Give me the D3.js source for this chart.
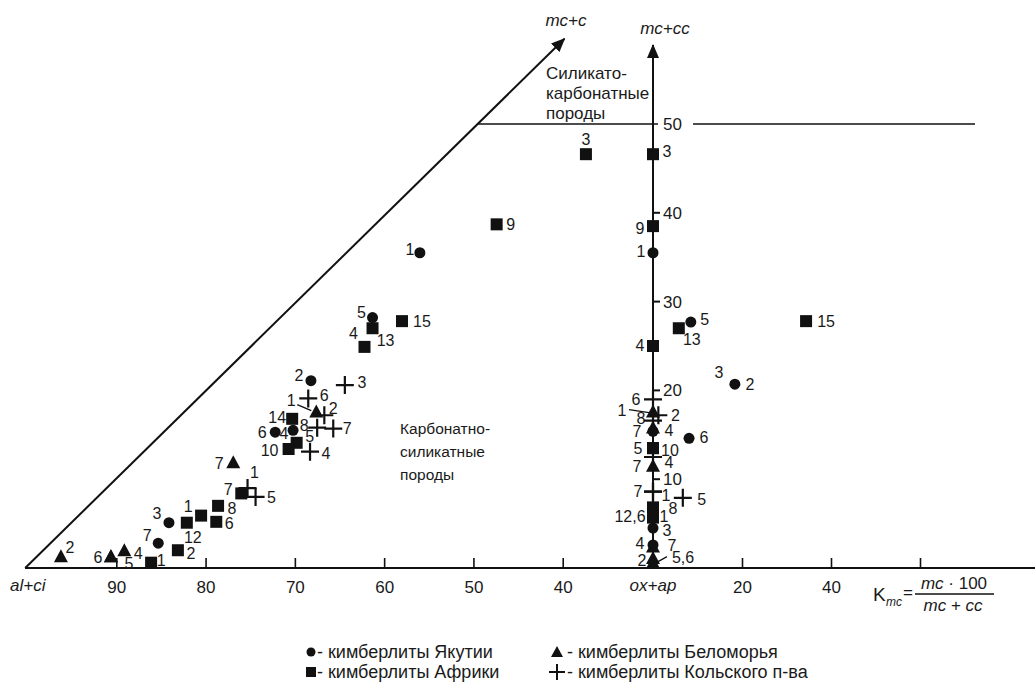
<!DOCTYPE html>
<html><head><meta charset="utf-8">
<script src="https://cdn.jsdelivr.net/npm/d3@7"></script>
<style>
body{margin:0;background:#fff}
svg{display:block}
text{font-family:"Liberation Sans",Arial,sans-serif;fill:#1a1a1a}
</style>
</head><body>
<svg id="c" width="1035" height="683"></svg>
<script>
// ---------------- DATA ----------------
// Left (triangle) part: al+ci (%) along the base, mc+c up
const leftTicks = [90, 80, 70, 60, 50, 40];
const rightTicks = [20, 40, 60];
const rightTickLabels = ["20", "40", ""];
const vertTicks = [10, 20, 30, 40];
const boundaryLevel = 50;

const yakutiaLeft = [
  {id:"1", a:56.0, m:35.5}, {id:"5", a:61.3, m:28.2}, {id:"2", a:68.2, m:21.1},
  {id:"4", a:70.2, m:15.5}, {id:"6", a:72.2, m:15.3}, {id:"3", a:84.1, m:5.1},
  {id:"7", a:85.3, m:2.8}
];
const africaLeft = [
  {id:"3", a:37.4, m:46.6}, {id:"9", a:47.4, m:38.7}, {id:"15", a:58.0, m:27.8},
  {id:"13", a:61.3, m:27.0}, {id:"4", a:62.2, m:24.9}, {id:"14", a:70.3, m:16.8},
  {id:"5", a:69.8, m:14.1}, {id:"10", a:70.7, m:13.4}, {id:"7", a:76.0, m:8.4},
  {id:"8", a:78.6, m:7.0}, {id:"1", a:80.5, m:5.9}, {id:"6", a:78.8, m:5.2},
  {id:"12", a:82.1, m:5.1}, {id:"2", a:83.1, m:2.0}, {id:"1", a:86.1, m:0.6}
];
const belomoryeLeft = [
  {id:"1", a:67.6, m:17.5}, {id:"7", a:76.9, m:11.8}, {id:"2", a:96.2, m:1.2},
  {id:"6", a:90.6, m:1.2}, {id:"5", a:90.6, m:1.2}, {id:"4", a:89.1, m:1.9}
];
const kolaLeft = [
  {id:"3", a:64.4, m:20.6}, {id:"6", a:68.5, m:19.1}, {id:"2", a:66.7, m:17.2},
  {id:"8", a:67.5, m:15.8}, {id:"7", a:65.7, m:15.7}, {id:"4", a:68.3, m:13.1},
  {id:"1", a:75.3, m:9.0}, {id:"5", a:74.4, m:8.0}
];

// Right part: K_mc along the base, mc+cc up
const yakutiaRight = [
  {id:"1", k:0, m:35.5}, {id:"5", k:8.5, m:27.7}, {id:"2", k:18.4, m:20.7},
  {id:"4", k:0, m:15.4}, {id:"6", k:8.1, m:14.6}, {id:"3", k:0, m:4.5},
  {id:"7", k:0, m:2.6}
];
const africaRight = [
  {id:"3", k:0, m:46.6}, {id:"9", k:0, m:38.5}, {id:"4", k:0, m:25.0},
  {id:"13", k:5.8, m:27.0}, {id:"15", k:34.4, m:27.8}, {id:"5", k:0, m:13.5},
  {id:"10", k:0, m:13.5}, {id:"12", k:0, m:6.8}, {id:"8", k:0, m:6.8},
  {id:"6", k:0, m:5.7}, {id:"1", k:0, m:5.7}
];
const belomoryeRight = [
  {id:"1", k:0, m:17.5}, {id:"7", k:0, m:15.7}, {id:"4", k:0, m:11.4},
  {id:"4", k:0, m:2.3}, {id:"2", k:0, m:1.0}, {id:"5,6", k:0, m:0.5}
];
const kolaRight = [
  {id:"6", k:0, m:19.0}, {id:"2", k:1.2, m:17.2}, {id:"8", k:0, m:16.6},
  {id:"4", k:0, m:12.5}, {id:"7", k:0, m:8.6}, {id:"1", k:0, m:8.6},
  {id:"5", k:6.7, m:7.9}
];

const legendItems = [
  {shape:"circle", text:"- кимберлиты Якутии"},
  {shape:"triangle", text:"- кимберлиты Беломорья"},
  {shape:"square", text:"- кимберлиты Африки"},
  {shape:"cross", text:"- кимберлиты Кольского п-ва"}
];

// ---------------- LAYOUT (label placement, px offsets) ----------------
const labYL = [[[-10,-3]],[[-11,-5]],[[-12,-5]],[[-9,3]],[[-13,0]],[[-12,-9]],[[-11,-8]]];
const labAL = [[[0,-15]],[[14,0]],[[20,0]],[[13,12]],[[-11,-13]],[[-15,-1]],[[13,-6]],[[-19,1]],
  [[-13,-4]],[[14,3]],[[-13,-9]],[[13,2]],[[6,15]],[[13,3]],[[10,-2]]];
const labBL = [[[-25,-12,null,[-19,-8,-5,-2]]],[[-14,0]],[[9,-10]],[[-13,0]],[[18,6]],[[14,2]]];
const labKL = [[[17,-3]],[[16,-3]],[[9,-7]],[[-13,-2]],[[14,0]],[[16,2]],[[7,-16]],[[16,0]]];

const labYR = [[[-12,-1]],[[14,-3]],[[15,0],[-16,-12,"3"]],[[16,-1]],[[15,-1]],[[14,2]],[[19,0]]];
const labAR = [[[14,-3]],[[-13,2]],[[-13,-1]],[[13,11]],[[20,0]],[[-15,0]],[[17,2]],
  [[-23,9,"12,6"]],[[20,1]],[],[[11,-1]]];
const labBR = [[[-31,-2,null,[-24,-3,-4,0]]],[[-16,3]],[[-16,0,"7"],[16,-4]],[[-13,-4]],[[-11,1]],
  [[30,-6,null,[5,-2,14,-7]]]];
const labKR = [[[-17,0]],[[17,0]],[[-12,-2]],[],[[-15,0]],[[13,4]],[[19,2]]];

// ---------------- DRAW ----------------
const svg = d3.select("#c");
const xl = d3.scaleLinear().domain([100, 30]).range([27, 652]);
const xr = d3.scaleLinear().domain([0, 60]).range([653, 920]);
const yv = d3.scaleLinear().domain([0, 50]).range([568, 124]);
const ink = "#111";
const FF = '"Liberation Sans",Arial,sans-serif';
const LBL = 16;

// base line
svg.append("line").attr("x1", 25).attr("x2", 1035).attr("y1", yv(0)).attr("y2", yv(0))
  .attr("stroke", ink).attr("stroke-width", 2);

// left ticks via axis
const axL = d3.axisBottom(xl).tickValues(leftTicks).tickSize(-10).tickSizeOuter(0).tickPadding(13);
const gL = svg.append("g").attr("transform", `translate(0,${yv(0)})`).call(axL);
gL.select(".domain").remove();
gL.selectAll("line").attr("stroke", ink).attr("stroke-width", 1.6);
gL.selectAll("text").attr("font-size", 17).attr("fill", "#1a1a1a").attr("font-family", FF);

const axR = d3.axisBottom(xr).tickValues(rightTicks).tickFormat((d, i) => rightTickLabels[i])
  .tickSize(-10).tickSizeOuter(0).tickPadding(13);
const gR = svg.append("g").attr("transform", `translate(0,${yv(0)})`).call(axR);
gR.select(".domain").remove();
gR.selectAll("line").attr("stroke", ink).attr("stroke-width", 1.6);
gR.selectAll("text").attr("font-size", 17).attr("fill", "#1a1a1a").attr("font-family", FF);

// axis end labels
svg.append("text").attr("x", 10).attr("y", 591).attr("font-size", 17).attr("font-style", "italic").text("al+ci");
svg.append("text").attr("x", xr(0)).attr("y", 591).attr("text-anchor", "middle").attr("font-size", 17)
  .attr("font-style", "italic").text("ox+ap");

// arrow marker
const defs = svg.append("defs");
defs.append("marker").attr("id", "arr").attr("viewBox", "0 0 14 12").attr("refX", 13).attr("refY", 6)
  .attr("markerWidth", 14).attr("markerHeight", 12).attr("markerUnits", "userSpaceOnUse").attr("orient", "auto")
  .append("path").attr("d", "M0,0 L14,6 L0,12 Z").attr("fill", ink);

// diagonal mc+c
const diagStart = {a: 100.2, m: 0}, diagEnd = {a: 39.8, m: 59.6};
svg.append("line").attr("x1", xl(diagStart.a)).attr("y1", yv(diagStart.m))
  .attr("x2", xl(diagEnd.a)).attr("y2", yv(diagEnd.m))
  .attr("stroke", ink).attr("stroke-width", 2).attr("marker-end", "url(#arr)");
svg.append("text").attr("x", 566).attr("y", 26).attr("text-anchor", "middle").attr("font-size", 17)
  .attr("font-style", "italic").text("mc+c");

// vertical axis mc+cc
svg.append("line").attr("x1", xr(0)).attr("x2", xr(0)).attr("y1", yv(0)).attr("y2", yv(58.9))
  .attr("stroke", ink).attr("stroke-width", 2).attr("marker-end", "url(#arr)");
svg.append("text").attr("x", 665).attr("y", 34).attr("text-anchor", "middle").attr("font-size", 17)
  .attr("font-style", "italic").text("mc+cc");
vertTicks.forEach(t => {
  svg.append("line").attr("x1", xr(0)).attr("x2", xr(0) + 7).attr("y1", yv(t)).attr("y2", yv(t))
    .attr("stroke", ink).attr("stroke-width", 2);
  svg.append("text").attr("x", xr(0) + 10).attr("y", yv(t)).attr("dy", "0.35em").attr("font-size", 17).text(t);
});

// boundary at 50
const tDiag = boundaryLevel / diagEnd.m;
const xCross = xl(diagStart.a + (diagEnd.a - diagStart.a) * tDiag);
svg.append("line").attr("x1", xCross).attr("x2", xr(0) + 5).attr("y1", yv(boundaryLevel)).attr("y2", yv(boundaryLevel))
  .attr("stroke", ink).attr("stroke-width", 1.6);
svg.append("line").attr("x1", xr(0) + 40).attr("x2", 975).attr("y1", yv(boundaryLevel)).attr("y2", yv(boundaryLevel))
  .attr("stroke", ink).attr("stroke-width", 1.6);
svg.append("text").attr("x", xr(0) + 10).attr("y", yv(boundaryLevel)).attr("dy", "0.35em").attr("font-size", 17).text("50");

// region texts
const reg1 = ["Силикато-", "карбонатные", "породы"];
reg1.forEach((s, i) => svg.append("text").attr("x", 546).attr("y", 79 + i * 20).attr("font-size", 17).text(s));
const reg2 = ["Карбонатно-", "силикатные", "породы"];
reg2.forEach((s, i) => svg.append("text").attr("x", 400).attr("y", 434 + i * 23).attr("font-size", 15.5).text(s));

// formula
const fg = svg.append("g");
fg.append("text").attr("x", 873).attr("y", 601).attr("font-size", 19).text("K");
fg.append("text").attr("x", 886).attr("y", 606).attr("font-size", 12).attr("font-style", "italic").text("mc");
fg.append("text").attr("x", 903).attr("y", 598).attr("font-size", 17).text("=");
const num = fg.append("text").attr("x", 954).attr("y", 589).attr("text-anchor", "middle").attr("font-size", 17);
num.append("tspan").attr("font-style", "italic").text("mc");
num.append("tspan").text(" · 100");
fg.append("line").attr("x1", 915).attr("x2", 994).attr("y1", 594).attr("y2", 594).attr("stroke", ink).attr("stroke-width", 1.3);
fg.append("text").attr("x", 953).attr("y", 611).attr("text-anchor", "middle").attr("font-size", 17)
  .attr("font-style", "italic").text("mc + cc");

// markers
function mark(g, shape, x, y) {
  if (shape === "circle") g.append("circle").attr("cx", x).attr("cy", y).attr("r", 5.5).attr("fill", ink);
  else if (shape === "square") g.append("rect").attr("x", x - 6).attr("y", y - 6).attr("width", 12).attr("height", 12).attr("fill", ink);
  else if (shape === "triangle") g.append("path").attr("d", `M${x},${y - 8}L${x + 7},${y + 5}L${x - 7},${y + 5}Z`).attr("fill", ink);
  else if (shape === "cross") g.append("path").attr("d", `M${x - 9},${y}H${x + 9}M${x},${y - 9}V${y + 9}`)
    .attr("stroke", ink).attr("stroke-width", 2.2).attr("fill", "none");
}
function series(data, labs, fx, fy, shape) {
  const g = svg.append("g");
  data.forEach((d, i) => {
    const x = fx(d), y = fy(d);
    mark(g, shape, x, y);
    (labs[i] || []).forEach(l => {
      g.append("text").attr("x", x + l[0]).attr("y", y + l[1]).attr("dy", "0.35em").attr("text-anchor", "middle")
        .attr("font-size", LBL).text(l[2] || d.id);
      if (l[3]) g.append("line").attr("x1", x + l[3][0]).attr("y1", y + l[3][1]).attr("x2", x + l[3][2]).attr("y2", y + l[3][3])
        .attr("stroke", ink).attr("stroke-width", 1.3);
    });
  });
}
const fxL = d => xl(d.a), fxR = d => xr(d.k), fy = d => yv(d.m);
series(yakutiaLeft, labYL, fxL, fy, "circle");
series(africaLeft, labAL, fxL, fy, "square");
series(belomoryeLeft, labBL, fxL, fy, "triangle");
series(kolaLeft, labKL, fxL, fy, "cross");
series(africaRight, labAR, fxR, fy, "square");
series(yakutiaRight, labYR, fxR, fy, "circle");
series(belomoryeRight, labBR, fxR, fy, "triangle");
series(kolaRight, labKR, fxR, fy, "cross");

// legend
const legPos = [[311, 652], [557, 652], [311, 672], [557, 672]];
legendItems.forEach((it, i) => {
  const lg = svg.append("g");
  const [x, y] = legPos[i];
  if (it.shape === "circle") lg.append("circle").attr("cx", x).attr("cy", y).attr("r", 4.5).attr("fill", ink);
  if (it.shape === "square") lg.append("rect").attr("x", x - 5).attr("y", y - 5).attr("width", 10).attr("height", 10).attr("fill", ink);
  if (it.shape === "triangle") lg.append("path").attr("d", `M${x},${y - 6}L${x + 6},${y + 5}L${x - 6},${y + 5}Z`).attr("fill", ink);
  if (it.shape === "cross") lg.append("path").attr("d", `M${x - 8},${y}H${x + 8}M${x},${y - 8}V${y + 8}`).attr("stroke", ink).attr("stroke-width", 2);
  lg.append("text").attr("x", x + (it.shape === "circle" || it.shape === "square" ? 6 : 10)).attr("y", y).attr("dy", "0.35em")
    .attr("font-size", 18).text(it.text);
});
</script>
</body></html>
